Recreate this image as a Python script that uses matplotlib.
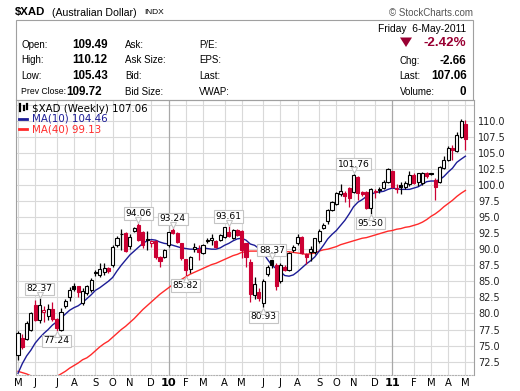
import matplotlib
matplotlib.use("Agg")
import matplotlib.pyplot as plt
from matplotlib.patches import Rectangle, Polygon
from matplotlib import transforms
import numpy as np
import pandas as pd

# ---- data (weekly, weeks starting Monday) ----
start_week = "2009-05-04"
opens = [73.6, 76.2, 76.0, 77.4, 81.3, 79.0, 80.2, 79.6, 80.7, 79.1,
         77.4, 81.2, 82.5, 84.3, 84.2, 81.7, 83.2, 83.6, 86.3, 86.0,
         86.5, 87.1, 87.5, 90.6, 92.4, 92.5, 90.5, 92.9, 93.8, 92.6,
         91.6, 90.9, 91.2, 88.8, 88.8, 90.6, 93.0, 92.5, 90.9, 88.4,
         86.9, 90.0, 90.0, 89.4, 91.2, 91.4, 91.2, 91.5, 91.9, 92.6,
         91.8, 93.0, 92.9, 90.9, 88.0, 82.9, 83.4, 81.7, 86.1, 88.3,
         87.5, 85.1, 87.3, 86.8, 89.8, 91.0, 91.9, 89.3, 89.6, 89.6,
         91.2, 93.3, 94.4, 96.1, 97.0, 98.6, 98.8, 99.5, 98.9, 101.3,
         98.9, 98.9, 96.4, 98.9, 99.3, 99.5, 100.5, 102.1, 99.4, 100.0,
         99.7, 100.2, 101.6, 100.5, 100.3, 101.9, 101.8, 100.8, 100.5, 102.6,
         103.9, 105.8, 105.3, 107.5, 109.49]
highs = [77.3, 76.8, 78.8, 80.3, 82.1, 82.37, 81.2, 81.5, 81.8, 79.3,
         80.9, 82.2, 84.1, 84.7, 84.3, 84.0, 84.5, 85.5, 86.8, 87.9,
         87.9, 87.3, 90.6, 92.0, 93.1, 92.7, 92.3, 93.5, 94.06, 92.8,
         92.8, 91.5, 91.4, 88.9, 90.1, 92.7, 93.24, 92.6, 91.0, 88.5,
         89.0, 90.9, 90.6, 90.8, 91.7, 92.4, 91.4, 92.4, 93.5, 93.61,
         93.2, 93.1, 93.0, 91.0, 88.4, 85.6, 84.0, 85.3, 87.5, 88.37,
         87.8, 87.9, 87.5, 89.6, 90.6, 92.4, 92.0, 89.4, 90.5, 91.8,
         93.1, 94.0, 96.3, 97.5, 98.9, 100.1, 99.0, 99.6, 101.76, 101.4,
         99.1, 99.0, 99.5, 99.3, 99.6, 100.7, 102.6, 102.2, 100.2, 100.4,
         100.6, 102.1, 101.8, 101.9, 102.0, 102.0, 101.9, 101.0, 103.0, 104.5,
         106.0, 106.2, 108.2, 110.2, 110.12]
lows = [72.8, 74.5, 75.8, 77.2, 78.8, 78.5, 78.6, 79.0, 78.8, 77.24,
        77.3, 80.8, 81.9, 83.5, 82.6, 81.3, 82.8, 83.3, 85.9, 85.6,
        86.0, 86.3, 87.3, 90.3, 89.9, 89.5, 90.0, 92.6, 91.2, 90.2,
        89.9, 90.3, 88.4, 87.2, 88.6, 90.4, 92.3, 90.9, 88.3, 85.82,
        86.3, 89.5, 88.3, 89.2, 91.0, 90.6, 90.2, 91.3, 91.7, 91.9,
        91.6, 92.0, 88.6, 87.2, 81.8, 82.2, 82.0, 80.93, 85.8, 87.0,
        83.6, 84.8, 86.6, 86.6, 89.5, 90.7, 89.2, 87.7, 88.2, 89.3,
        91.0, 93.1, 93.9, 95.9, 96.8, 98.3, 97.3, 96.6, 98.7, 97.7,
        98.3, 96.2, 95.50, 97.9, 98.7, 99.3, 100.3, 99.5, 98.8, 98.6,
        99.4, 99.9, 100.1, 99.8, 100.0, 101.1, 101.5, 97.6, 100.3, 102.4,
        103.7, 103.8, 105.1, 107.3, 105.43]
closes = [77.0, 74.8, 78.5, 80.1, 79.0, 81.3, 80.5, 80.7, 79.2, 77.8,
          80.2, 81.9, 83.6, 83.8, 83.4, 83.5, 84.2, 85.2, 86.4, 86.9,
          87.1, 86.6, 90.4, 91.7, 92.3, 89.7, 91.9, 93.3, 91.5, 90.7,
          91.5, 91.3, 88.8, 88.2, 89.9, 92.6, 92.5, 91.1, 88.6, 86.8,
          88.8, 90.4, 89.6, 90.6, 91.5, 91.8, 90.4, 92.2, 93.4, 92.0,
          93.0, 92.2, 89.8, 88.8, 83.1, 84.6, 82.4, 85.1, 87.3, 87.6,
          84.2, 87.5, 86.8, 89.4, 90.3, 91.9, 89.4, 88.8, 90.0, 91.7,
          92.9, 93.8, 96.1, 97.3, 98.7, 99.0, 98.2, 98.0, 101.5, 98.7,
          98.6, 96.4, 99.3, 99.1, 99.15, 100.5, 102.4, 99.7, 99.5, 99.7,
          100.3, 101.5, 100.3, 101.8, 101.9, 101.4, 101.7, 99.6, 102.8, 103.9,
          105.8, 105.4, 107.8, 109.9, 107.06]
ma10 = [70.7, 72.2, 73.4, 74.3, 75.4, 76.2, 76.9, 77.5, 78.2, 78.7,
        79.3, 79.9, 80.5, 80.9, 81.2, 81.7, 82.3, 82.9, 83.6, 84.0,
        84.5, 85.0, 85.6, 86.6, 87.5, 88.3, 89.1, 89.7, 90.3, 90.9,
        91.3, 91.5, 91.4, 91.1, 90.9, 90.8, 90.6, 90.4, 90.2, 90.1,
        90.0, 90.0, 90.1, 90.2, 90.1, 90.0, 90.0, 90.2, 90.6, 90.9,
        91.3, 91.6, 91.7, 91.4, 90.8, 90.6, 90.1, 89.4, 88.4, 87.5,
        87.0, 86.5, 85.9, 85.8, 86.0, 86.5, 87.1, 87.7, 88.2, 88.8,
        89.7, 90.6, 91.6, 92.3, 92.9, 93.7, 94.5, 95.5, 96.6, 97.3,
        97.7, 98.2, 98.5, 98.8, 98.9, 99.0, 99.3, 99.5, 99.4, 99.3,
        99.3, 99.3, 99.5, 99.7, 100.1, 100.5, 100.6, 100.6, 100.8, 101.3,
        102.0, 102.6, 103.5, 104.0, 104.46]
ma40 = [71.0, 70.8, 70.6, 70.3, 70.1, 70.0, 69.9, 69.9, 70.0, 70.2,
        70.6, 71.0, 71.5, 71.9, 72.3, 72.8, 73.1, 73.6, 74.2, 74.8,
        75.3, 75.7, 76.3, 76.9, 77.5, 78.0, 78.6, 79.2, 79.9, 80.6,
        81.2, 81.8, 82.4, 83.0, 83.5, 84.0, 84.5, 84.9, 85.3, 85.7,
        86.1, 86.4, 86.7, 87.0, 87.3, 87.6, 87.8, 88.1, 88.4, 88.7,
        89.0, 89.2, 89.5, 89.6, 89.7, 89.7, 89.7, 89.7, 89.6, 89.6,
        89.6, 89.6, 89.6, 89.6, 89.5, 89.4, 89.3, 89.2, 89.3, 89.4,
        89.7, 89.9, 90.0, 90.2, 90.4, 90.7, 90.9, 91.1, 91.3, 91.5,
        91.7, 91.8, 92.0, 92.2, 92.4, 92.6, 92.8, 92.9, 93.1, 93.2,
        93.4, 93.5, 93.7, 93.9, 94.2, 94.6, 95.1, 95.5, 96.0, 96.6,
        97.1, 97.6, 98.2, 98.7, 99.13]

# labelled highs / lows (week index, value)
high_marks = [(5, 82.37), (28, 94.06), (36, 93.24), (49, 93.61), (59, 88.37), (78, 101.76)]
low_marks = [(9, 77.24), (39, 85.82), (57, 80.93), (82, 95.50)]

yticks = np.arange(72.5, 110.1, 2.5)

W, H = 520, 391
RED = "#cc0033"
GRID = "#d9d9d9"
FRAME = "#a0a0a0"


def fx(x):
    return x / W


def fy(y):
    return 1 - y / H


fig = plt.figure(figsize=(W / 100, H / 100), dpi=100)
fig.patch.set_facecolor("white")

# ---- header ----
sans = "Liberation Sans"
fig.text(fx(15), fy(12.5), "$XAD", fontsize=8.2, fontweight="bold", family=sans, va="center")
fig.text(fx(52), fy(12.5), "(Australian Dollar)", fontsize=7.6, family=sans, va="center")
fig.text(fx(144), fy(13), "INDX", fontsize=6, family=sans, va="center")
fig.text(fx(473), fy(12.5), "\u00a9 StockCharts.com", fontsize=7, family=sans, va="center",
         ha="right", color="#555555")

fig.patches.append(Rectangle((fx(16), fy(100)), fx(473) - fx(16), fy(20) - fy(100),
                             transform=fig.transFigure, fill=False, ec=FRAME, lw=0.8))

rows_y = [44.5, 60, 76, 91.7]
left_labels = ["Open:", "High:", "Low:", "Prev Close:"]
left_size = [7.0, 7.0, 7.0, 6.2]
left_values = ["109.49", "110.12", "105.43", "109.72"]
value_x = [72.5, 72.5, 72.5, 66.5]
mid_labels = ["Ask:", "Ask Size:", "Bid:", "Bid Size:"]
right_labels = ["P/E:", "EPS:", "Last:", "VWAP:"]
for yy, lab, ls, val, vx, ml, rl in zip(rows_y, left_labels, left_size, left_values, value_x,
                                        mid_labels, right_labels):
    fig.text(fx(21), fy(yy), lab, fontsize=ls, family=sans, va="center")
    fig.text(fx(vx), fy(yy), val, fontsize=8.4, family=sans, fontweight="bold", va="center")
    fig.text(fx(125), fy(yy), ml, fontsize=7.0, family=sans, va="center")
    fig.text(fx(199), fy(yy), rl, fontsize=7.0, family=sans, va="center")

fig.text(fx(466.5), fy(28.5), "Friday  6-May-2011", fontsize=7.4, family=sans, va="center", ha="right")
fig.patches.append(Polygon([(fx(400), fy(37.5)), (fx(412), fy(37.5)), (fx(406), fy(47))],
                           closed=True, transform=fig.transFigure, fc="#990033", ec="none"))
fig.text(fx(466.5), fy(43), "-2.42%", fontsize=9.6, family=sans, fontweight="bold",
         color="#990033", va="center", ha="right")
for yy, lab, val in zip([60.7, 76, 91.7], ["Chg:", "Last:", "Volume:"], ["-2.66", "107.06", "0"]):
    fig.text(fx(399.5), fy(yy), lab, fontsize=7.0, family=sans, va="center")
    fig.text(fx(466.5), fy(yy), val, fontsize=8.4, family=sans, fontweight="bold", va="center", ha="right")

# ---- price panel ----
ax = fig.add_axes([fx(16), fy(375), fx(474) - fx(16), fy(100) - fy(375)])
n = len(closes)
idx = np.arange(n)
weeks = pd.date_range(start_week, periods=n, freq="W-MON")

ax.set_xlim(-0.47, 106.0)
ax.set_ylim(70.43, 113.2)

# grid
for yv in yticks:
    ax.axhline(yv, color=GRID, lw=0.8, zorder=0)
ax.axhline(112.5, color=GRID, lw=0.8, zorder=0)
month_idx = [0] + [i for i in range(1, n) if weeks[i].month != weeks[i - 1].month]
month_lab = []
for i in month_idx:
    d = weeks[i]
    if d.month == 1:
        month_lab.append(d.strftime("%y"))
        ax.axvline(i, color="#a8a8a8", lw=0.9, zorder=0)
    else:
        month_lab.append(d.strftime("%b")[0])
        ax.axvline(i, color=GRID, lw=0.8, zorder=0)

# moving averages
ax.plot(idx, ma40, color="#ff2a2a", lw=1.0, zorder=2)
ax.plot(idx, ma10, color="#1c1c96", lw=1.0, zorder=2)

# candles
bw = 0.72
for i in range(n):
    o, h, l, c = opens[i], highs[i], lows[i], closes[i]
    prev = closes[i - 1] if i > 0 else o
    col = RED if c < prev else "black"
    filled = c < o
    ax.vlines(i, l, h, color=col, lw=0.9, zorder=3)
    lo, hi = min(o, c), max(o, c)
    if hi - lo < 0.08:
        hi = lo + 0.08
    ax.add_patch(Rectangle((i - bw / 2, lo), bw, hi - lo, fc=col if filled else "white",
                           ec=col, lw=0.8, zorder=4))

# value tags
def tag(i, v, above):
    dy = 5 if above else -5
    tr = transforms.offset_copy(ax.transData, fig=fig, x=0, y=dy * 0.72, units="points")
    ax.text(i, v, f"{v:.2f}", transform=tr, ha="center", va="bottom" if above else "top",
            fontsize=6.6, family="DejaVu Sans", zorder=6,
            bbox=dict(boxstyle="square,pad=0.18", fc="white", ec="#c4c4c4", lw=0.8))
    tr2 = transforms.offset_copy(ax.transData, fig=fig, x=0, y=(3.2 if above else -3.2) * 0.72,
                                 units="points")
    ax.plot(i, v, marker="v" if above else "^", ms=4.5, mfc="white", mec="#c4c4c4", mew=0.8,
            transform=tr2, zorder=7, clip_on=False)


for i, v in high_marks:
    tag(i, v, True)
for i, v in low_marks:
    tag(i, v, False)

# axes styling
for s in ["left", "right", "top"]:
    ax.spines[s].set_color(FRAME)
    ax.spines[s].set_linewidth(0.8)
ax.spines["bottom"].set_color("#b0b0b0")
ax.spines["bottom"].set_linestyle((0, (1, 1.5)))
ax.yaxis.tick_right()
ax.set_yticks(yticks)
ax.set_yticklabels([f"{v:.1f}" for v in yticks])
ax.tick_params(axis="y", length=0, pad=3, labelsize=7.0, labelcolor="#222222")
ax.set_xticks(month_idx)
ax.set_xticklabels(month_lab)
ax.tick_params(axis="x", length=0, pad=2.5, labelsize=7.2)
for t, lab in zip(ax.get_xticklabels(), month_lab):
    if lab.isdigit():
        t.set_fontweight("bold")
        t.set_fontsize(8.2)

# legend
mono = "DejaVu Sans"
ax.text(0.035, 0.967, "$XAD (Weekly) 107.06", transform=ax.transAxes, fontsize=7.4,
        family=mono, va="center", zorder=8)
ax.text(0.035, 0.931, "MA(10) 104.46", transform=ax.transAxes, fontsize=7.4,
        family=mono, va="center", color="#1c1c96", zorder=8)
ax.text(0.035, 0.894, "MA(40) 99.13", transform=ax.transAxes, fontsize=7.4,
        family=mono, va="center", color="#ff2a2a", zorder=8)
fig.lines.append(plt.Line2D([fx(19), fx(26.5)], [fy(119), fy(119)], color="#1c1c96", lw=2,
                            transform=fig.transFigure))
fig.lines.append(plt.Line2D([fx(19), fx(26.5)], [fy(129), fy(129)], color="#ff2a2a", lw=2,
                            transform=fig.transFigure))
# tiny candle icon
for k, (x0, y0, y1) in enumerate([(20, 104, 111), (23.5, 105.5, 110), (27, 103.5, 109)]):
    fig.lines.append(plt.Line2D([fx(x0), fx(x0)], [fy(y0), fy(y1)], color="black", lw=1.6,
                                transform=fig.transFigure))

fig.savefig("out.png", dpi=100)
